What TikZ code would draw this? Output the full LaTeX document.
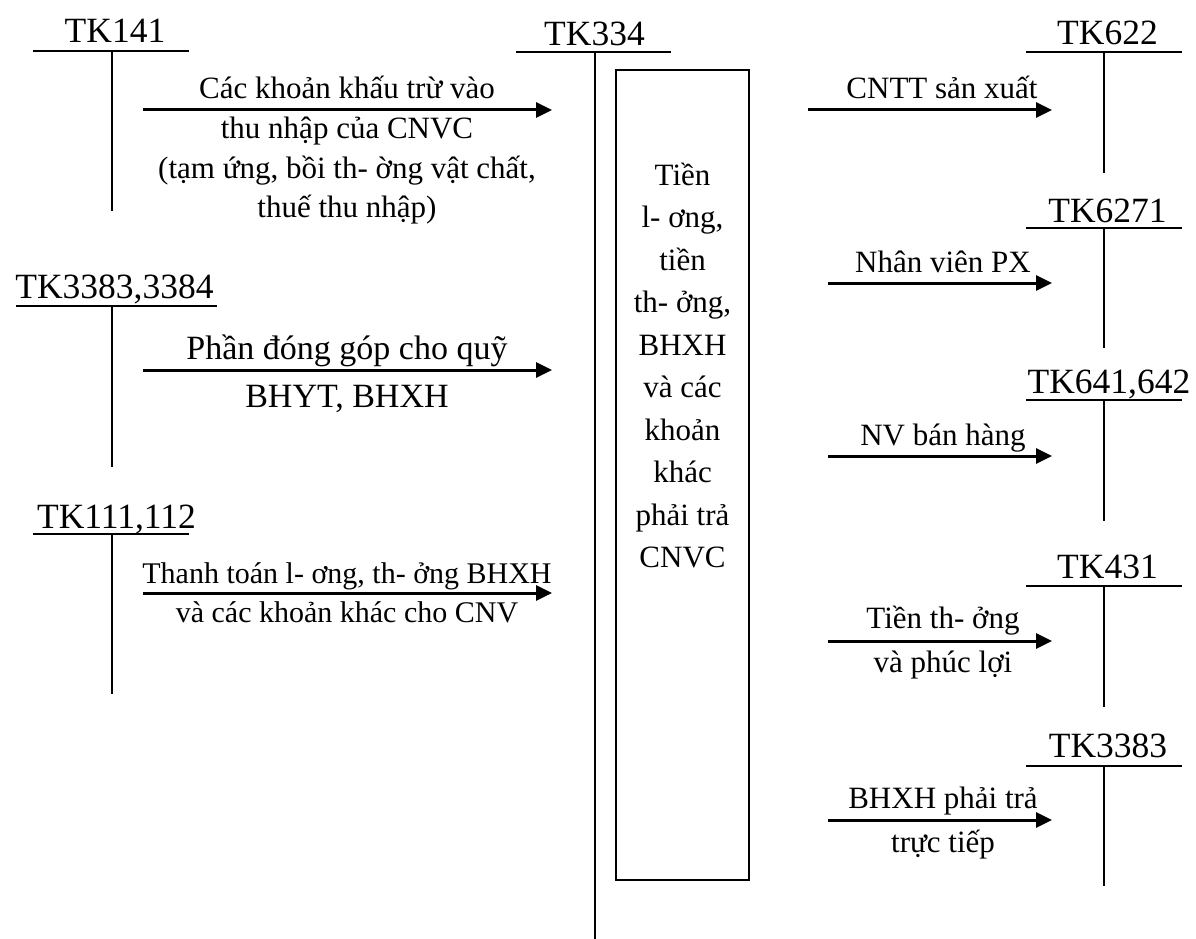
\documentclass[tikz,border=0pt]{standalone}
\usepackage{fontspec}
\setmainfont{Liberation Serif}
\usetikzlibrary{arrows.meta}
\begin{document}
\begin{tikzpicture}[x=1pt,y=-1pt,
  acct/.style={anchor=base,inner sep=0pt,font=\fontsize{35.5}{40}\selectfont},
  lbl/.style={anchor=base,inner sep=0pt,font=\fontsize{31}{36}\selectfont},
  lblbig/.style={anchor=base,inner sep=0pt,font=\fontsize{34}{38}\selectfont},
  lblsm/.style={anchor=base,inner sep=0pt,font=\fontsize{30}{34}\selectfont},
  tline/.style={line width=2pt},
  flow/.style={line width=3pt,-{Triangle[length=16pt,width=15pt]}},
  boxstyle/.style={draw,line width=2pt,inner sep=0pt,minimum width=133pt,minimum height=810pt},
  boxtext/.style={anchor=base,inner sep=0pt,align=center,font=\fontsize{31}{42.5}\selectfont}
  ]
\useasboundingbox (0,0) rectangle (1196,939);

% ---------- left T accounts ----------
\node[acct] (tk141) at (115,43) {TK141};
\coordinate (tk141l) at (33,51); \coordinate (tk141r) at (189,51);
\coordinate (tk141t) at (112,51); \coordinate (tk141b) at (112,211);
\draw[tline] (tk141l) -- (tk141r);
\draw[tline] (tk141t) -- (tk141b);

\node[acct] (tk3383a) at (114.5,298) {TK3383,3384};
\coordinate (tk3383al) at (16,306); \coordinate (tk3383ar) at (217,306);
\coordinate (tk3383at) at (112,306); \coordinate (tk3383ab) at (112,467);
\draw[tline] (tk3383al) -- (tk3383ar);
\draw[tline] (tk3383at) -- (tk3383ab);

\node[acct] (tk111) at (116.5,528) {TK111,112};
\coordinate (tk111l) at (33,534); \coordinate (tk111r) at (189,534);
\coordinate (tk111t) at (112,534); \coordinate (tk111b) at (112,694);
\draw[tline] (tk111l) -- (tk111r);
\draw[tline] (tk111t) -- (tk111b);

% ---------- central account ----------
\node[acct] (tk334) at (594.5,46) {TK334};
\coordinate (tk334l) at (516,52); \coordinate (tk334r) at (671,52);
\coordinate (tk334t) at (595,52); \coordinate (tk334b) at (595,939);
\draw[tline] (tk334l) -- (tk334r);
\draw[tline] (tk334t) -- (tk334b);

\node[boxstyle] (box) at (682.5,475) {};
\node[boxtext] (boxtxt) at (682.5,567.5) {Tiền\\l- ơng,\\tiền\\th- ởng,\\BHXH\\và các\\khoản\\khác\\phải trả\\CNVC};

% ---------- left arrows ----------
\coordinate (a1s) at (143,110); \coordinate (a1e) at (552,110);
\draw[flow] (a1s) -- (a1e);
\node[lbl] (a1t1) at (347,99) {Các khoản khấu trừ vào};
\node[lbl] (a1t2) at (347,139) {thu nhập của CNVC};
\node[lbl] (a1t3) at (347,178) {(tạm ứng, bồi th- ờng vật chất,};
\node[lbl] (a1t4) at (347,217) {thuế thu nhập)};

\coordinate (a2s) at (143,370); \coordinate (a2e) at (552,370);
\draw[flow] (a2s) -- (a2e);
\node[lblbig] (a2t1) at (347,359) {Phần đóng góp cho quỹ};
\node[lblbig] (a2t2) at (347,407) {BHYT, BHXH};

\coordinate (a3s) at (143,593); \coordinate (a3e) at (552,593);
\draw[flow] (a3s) -- (a3e);
\node[lblsm] (a3t1) at (347,583) {Thanh toán l- ơng, th- ởng BHXH};
\node[lblsm] (a3t2) at (347,622) {và các khoản khác cho CNV};

% ---------- right T accounts ----------
\node[acct] (tk622) at (1107.5,45) {TK622};
\coordinate (tk622l) at (1026,52); \coordinate (tk622r) at (1182,52);
\coordinate (tk622t) at (1104,52); \coordinate (tk622b) at (1104,173);
\draw[tline] (tk622l) -- (tk622r);
\draw[tline] (tk622t) -- (tk622b);

\node[acct] (tk6271) at (1107.5,222) {TK6271};
\coordinate (tk6271l) at (1026,228); \coordinate (tk6271r) at (1182,228);
\coordinate (tk6271t) at (1104,228); \coordinate (tk6271b) at (1104,348);
\draw[tline] (tk6271l) -- (tk6271r);
\draw[tline] (tk6271t) -- (tk6271b);

\node[acct] (tk641) at (1109,393) {TK641,642};
\coordinate (tk641l) at (1026,400); \coordinate (tk641r) at (1182,400);
\coordinate (tk641t) at (1104,400); \coordinate (tk641b) at (1104,521);
\draw[tline] (tk641l) -- (tk641r);
\draw[tline] (tk641t) -- (tk641b);

\node[acct] (tk431) at (1107.5,578) {TK431};
\coordinate (tk431l) at (1026,586); \coordinate (tk431r) at (1182,586);
\coordinate (tk431t) at (1104,586); \coordinate (tk431b) at (1104,707);
\draw[tline] (tk431l) -- (tk431r);
\draw[tline] (tk431t) -- (tk431b);

\node[acct] (tk3383) at (1108,757) {TK3383};
\coordinate (tk3383l) at (1026,766); \coordinate (tk3383r) at (1182,766);
\coordinate (tk3383t) at (1104,766); \coordinate (tk3383b) at (1104,886);
\draw[tline] (tk3383l) -- (tk3383r);
\draw[tline] (tk3383t) -- (tk3383b);

% ---------- right arrows ----------
\coordinate (b1s) at (808,110); \coordinate (b1e) at (1052,110);
\draw[flow] (b1s) -- (b1e);
\node[lbl] (b1t1) at (942,99) {CNTT sản xuất};

\coordinate (b2s) at (828,283); \coordinate (b2e) at (1052,283);
\draw[flow] (b2s) -- (b2e);
\node[lbl] (b2t1) at (943,272) {Nhân viên PX};

\coordinate (b3s) at (828,456); \coordinate (b3e) at (1052,456);
\draw[flow] (b3s) -- (b3e);
\node[lbl] (b3t1) at (943,445) {NV bán hàng};

\coordinate (b4s) at (828,641); \coordinate (b4e) at (1052,641);
\draw[flow] (b4s) -- (b4e);
\node[lbl] (b4t1) at (943,628) {Tiền th- ởng};
\node[lbl] (b4t2) at (943,672) {và phúc lợi};

\coordinate (b5s) at (828,820); \coordinate (b5e) at (1052,820);
\draw[flow] (b5s) -- (b5e);
\node[lbl] (b5t1) at (943,808) {BHXH phải trả};
\node[lbl] (b5t2) at (943,852) {trực tiếp};
\end{tikzpicture}
\end{document}
